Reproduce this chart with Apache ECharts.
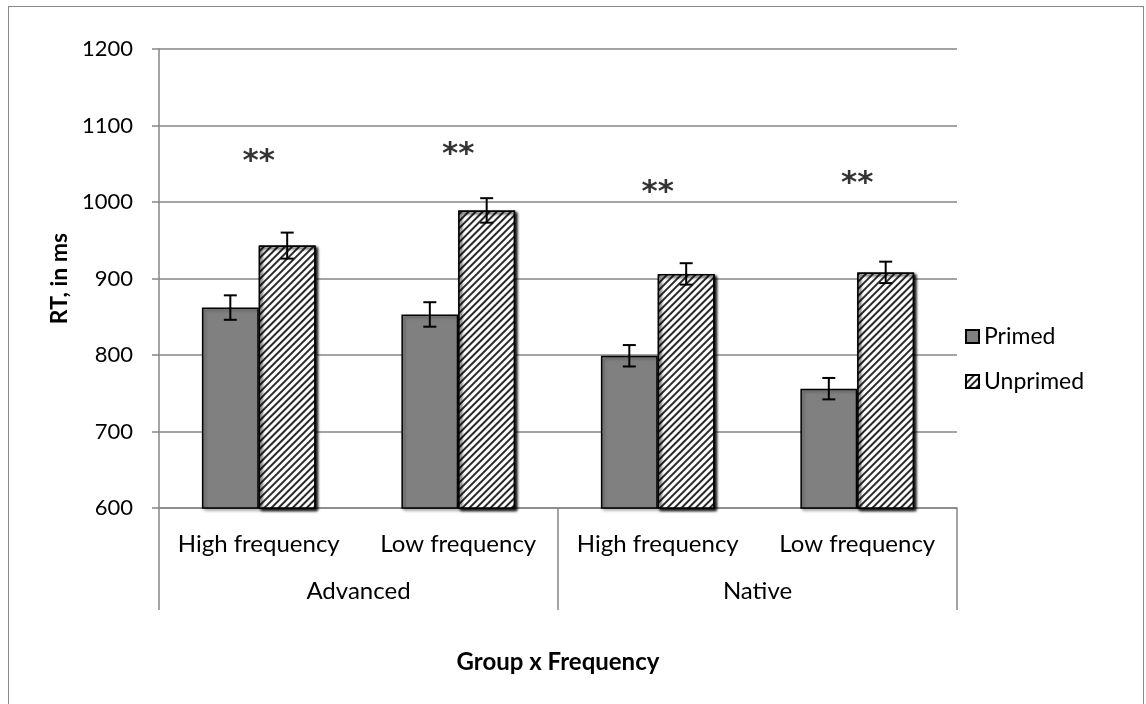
<!DOCTYPE html>
<html>
<head>
<meta charset="utf-8">
<script src="https://cdn.jsdelivr.net/npm/echarts@6/dist/echarts.min.js"></script>
<style>
html,body{margin:0;padding:0;background:#fff;}
#frame{position:absolute;left:8px;top:6px;width:1136px;height:720px;border:1.5px solid #8a8a8a;box-sizing:border-box;}
#chart{position:absolute;left:0;top:0;width:1146px;height:704px;}
</style>
</head>
<body>
<div id="frame"></div>
<div id="chart"></div>
<script>
// ---- data ----
const categories = ['High frequency', 'Low frequency', 'High frequency', 'Low frequency'];
const groups = ['Advanced', 'Native'];
const seriesNames = ['Primed', 'Unprimed'];
const primed = [862, 853, 799, 756];
const unprimed = [943, 989, 906, 908];
const primedErr = [16, 16, 14, 14];
const unprimedErr = [17, 16, 14, 14];
const starLabels = ['**', '**', '**', '**'];
const starValues = [1053, 1062, 1012, 1023];
const yTicks = { min: 600, max: 1200, interval: 100 };

const FONT = 'Lato, "Open Sans", sans-serif';
const AXIS_GREY = '#868686';
const GAP = 0.43;

const chart = echarts.init(document.getElementById('chart'), null, { renderer: 'canvas' });

function errorRender(side) {
  return function (params, api) {
    const idx = api.value(0);
    const v = api.value(1);
    const e = api.value(2);
    const band = api.size([1, 0])[0];
    const barW = band * (1 - GAP) / 2;
    const c = api.coord([idx, v]);
    const x = c[0] + side * barW / 2;
    const top = api.coord([idx, v + e])[1];
    const bot = api.coord([idx, v - e])[1];
    const cap = 6.5;
    const style = { stroke: '#000', lineWidth: 2 };
    return {
      type: 'group',
      children: [
        { type: 'line', shape: { x1: x, y1: top, x2: x, y2: bot }, style },
        { type: 'line', shape: { x1: x - cap, y1: top, x2: x + cap, y2: top }, style },
        { type: 'line', shape: { x1: x - cap, y1: bot, x2: x + cap, y2: bot }, style }
      ]
    };
  };
}

const hatch = {
  symbol: 'rect',
  symbolSize: 1,
  color: '#2a2a2a',
  backgroundColor: '#ffffff',
  dashArrayX: [1, 0],
  dashArrayY: [1.8, 2.3],
  rotation: -Math.PI / 4
};

const option = {
  animation: false,
  backgroundColor: 'transparent',
  textStyle: { fontFamily: FONT },
  grid: { left: 159, right: 189, top: 49, bottom: 196 },
  legend: {
    orient: 'vertical',
    left: 960,
    top: 320,
    itemWidth: 13,
    itemHeight: 13,
    itemGap: 22,
    icon: 'rect',
    textStyle: { fontFamily: FONT, fontSize: 23, color: '#000' },
    data: seriesNames
  },
  xAxis: [
    {
      type: 'category',
      data: categories,
      position: 'bottom',
      axisLine: { show: true, lineStyle: { color: AXIS_GREY, width: 1.5 } },
      axisTick: { show: false },
      axisLabel: { color: '#000', fontSize: 24, fontFamily: FONT, margin: 24, interval: 0 },
      splitLine: { show: false },
      name: 'Group x Frequency',
      nameLocation: 'middle',
      nameGap: 142,
      nameTextStyle: { color: '#000', fontSize: 24, fontWeight: 'bold', fontFamily: FONT }
    },
    {
      type: 'category',
      data: groups,
      position: 'bottom',
      axisLine: { show: false },
      axisTick: { show: true, length: 102, lineStyle: { color: AXIS_GREY, width: 1.5 } },
      axisLabel: { color: '#000', fontSize: 24, fontFamily: FONT, margin: 71, interval: 0 },
      splitLine: { show: false }
    }
  ],
  yAxis: {
    type: 'value',
    min: yTicks.min,
    max: yTicks.max,
    interval: yTicks.interval,
    axisLine: { show: true, lineStyle: { color: AXIS_GREY, width: 1.5 } },
    axisTick: { show: true, length: 7, lineStyle: { color: AXIS_GREY, width: 1.5 } },
    axisLabel: { color: '#000', fontSize: 22, fontFamily: FONT, margin: 26, formatter: (v) => String(v) },
    splitLine: { show: true, lineStyle: { color: AXIS_GREY, width: 1.5 } },
    name: 'RT, in ms',
    nameLocation: 'middle',
    nameGap: 88,
    nameRotate: 90,
    nameTextStyle: { color: '#000', fontSize: 23, fontWeight: 'bold', fontFamily: FONT }
  },
  series: [
    {
      name: seriesNames[0],
      type: 'bar',
      data: primed,
      barGap: '0%',
      barCategoryGap: (GAP * 100) + '%',
      itemStyle: {
        color: '#808080', borderColor: '#000', borderWidth: 1.5,
        shadowColor: 'rgba(0,0,0,0.3)', shadowBlur: 3, shadowOffsetX: 2, shadowOffsetY: 2
      }
    },
    {
      name: seriesNames[1],
      type: 'bar',
      data: unprimed,
      barGap: '0%',
      barCategoryGap: (GAP * 100) + '%',
      itemStyle: {
        color: '#ffffff', borderColor: '#000', borderWidth: 1.5, decal: hatch,
        shadowColor: 'rgba(0,0,0,0.3)', shadowBlur: 3, shadowOffsetX: 2, shadowOffsetY: 2
      }
    },
    {
      type: 'custom',
      renderItem: errorRender(-1),
      data: primed.map((v, i) => [i, v, primedErr[i]]),
      z: 10,
      silent: true
    },
    {
      type: 'custom',
      renderItem: errorRender(1),
      data: unprimed.map((v, i) => [i, v, unprimedErr[i]]),
      z: 10,
      silent: true
    },
    {
      type: 'scatter',
      symbolSize: 0,
      silent: true,
      data: starValues.map((v, i) => [i, v]),
      label: {
        show: true,
        position: 'inside',
        formatter: (p) => starLabels[p.dataIndex],
        fontFamily: '"DejaVu Sans", sans-serif',
        fontWeight: 'bold',
        fontSize: 31,
        color: '#000'
      }
    }
  ]
};

chart.setOption(option);
</script>
</body>
</html>
